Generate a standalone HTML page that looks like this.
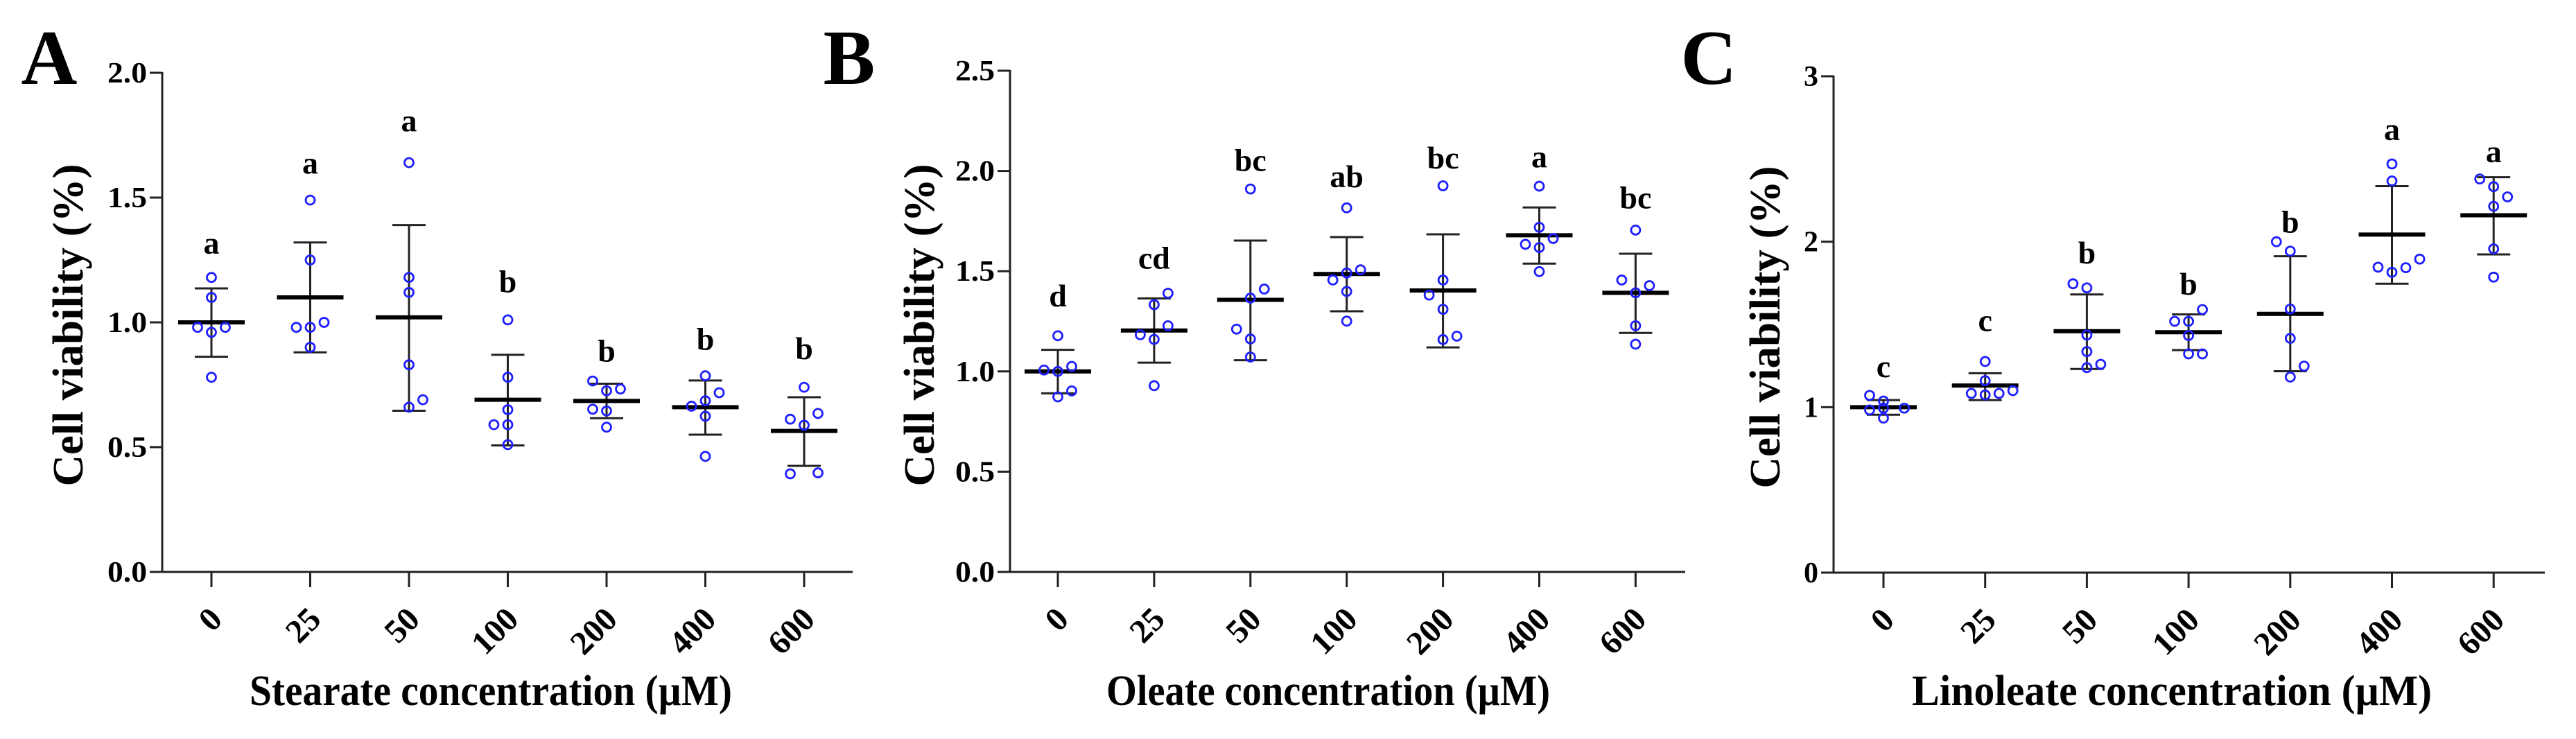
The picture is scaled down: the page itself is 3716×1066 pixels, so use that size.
<!DOCTYPE html>
<html><head><meta charset="utf-8"><style>
html,body{margin:0;padding:0;background:#fff;}
svg{display:block;font-family:"Liberation Serif","Times New Roman",serif;font-weight:bold;}
</style></head><body>
<svg id="fig" width="3716" height="1066" viewBox="0 0 3716 1066" xmlns="http://www.w3.org/2000/svg"></svg>
<script>
const categories = ["0","25","50","100","200","400","600"];
// Panel A – Stearate
const meansA = [1.0,1.10,1.02,0.69,0.685,0.66,0.565];
const upperA = [1.136,1.32,1.39,0.87,0.754,0.767,0.70];
const lowerA = [0.862,0.88,0.646,0.507,0.616,0.55,0.425];
const pointsA = [[1.18,1.10,0.98,0.96,0.98,0.78],[1.49,1.25,0.98,0.98,1.0,0.90],[1.64,1.18,1.12,0.83,0.66,0.69],[1.01,0.78,0.65,0.59,0.59,0.51],[0.765,0.726,0.733,0.652,0.645,0.58],[0.786,0.718,0.686,0.664,0.624,0.463],[0.74,0.635,0.612,0.588,0.393,0.397]];
const jitterA = [[0,0,-1,0,1,0],[0,0,-1,0,1,0],[0,0,0,0,0,1],[0,0,0,-1,0,0],[-1,0,1,-1,0,0],[0,1,0,-1,0,0],[0,1,-1,0,-1,1]];
const lettersA = ["a","a","a","b","b","b","b"];
const letterYA = [1.316,1.637,1.807,1.163,0.885,0.932,0.895];
const ticksA = [0,0.5,1.0,1.5,2.0];
const tickLabelsA = ["0.0","0.5","1.0","1.5","2.0"];
// Panel B – Oleate
const meansB = [1.0,1.204,1.357,1.486,1.404,1.679,1.392];
const upperB = [1.108,1.364,1.653,1.67,1.684,1.818,1.587];
const lowerB = [0.891,1.044,1.056,1.30,1.12,1.538,1.192];
const pointsB = [[1.178,1.007,1.025,1.0,0.903,0.873],[1.39,1.333,1.228,1.183,1.16,0.929],[1.91,1.411,1.366,1.211,1.162,1.072],[1.816,1.507,1.491,1.456,1.399,1.251],[1.926,1.456,1.381,1.31,1.176,1.159],[1.924,1.719,1.663,1.634,1.618,1.498],[1.705,1.456,1.428,1.392,1.228,1.136]];
const jitterB = [[0,-1,1,0,1,0],[1,0,1,-1,0,0],[0,1,0,-1,0,0],[0,1,0,-1,0,0],[0,0,-1,0,1,0],[0,0,1,-1,0,0],[0,-1,1,0,0,0]];
const lettersB = ["d","cd","bc","ab","bc","a","bc"];
const letterYB = [1.376,1.564,2.053,1.971,2.065,2.07,1.865];
const ticksB = [0,0.5,1.0,1.5,2.0,2.5];
const tickLabelsB = ["0.0","0.5","1.0","1.5","2.0","2.5"];
// Panel C – Linoleate
const meansC = [1.0,1.131,1.459,1.453,1.564,2.043,2.16];
const upperC = [1.043,1.205,1.681,1.561,1.912,2.336,2.39];
const lowerC = [0.954,1.043,1.231,1.345,1.217,1.746,1.923];
const pointsC = [[1.071,1.037,0.994,0.983,0.934,0.994],[1.276,1.16,1.083,1.074,1.083,1.10],[1.746,1.721,1.436,1.336,1.259,1.239],[1.59,1.519,1.519,1.433,1.322,1.322],[2.0,1.943,1.593,1.416,1.248,1.182],[2.47,2.367,1.846,1.815,1.843,1.895],[2.379,2.333,2.271,2.214,1.957,1.786]];
const jitterC = [[-1,0,0,-1,0,1.5],[0,0,-1,0,1,2],[-1,0,0,0,1,0],[1,-1,0,0,0,1],[-1,0,0,0,1,0],[0,0,-1,0,1,2],[-1,0,1,0,0,0]];
const lettersC = ["c","c","b","b","b","a","a"];
const letterYC = [1.245,1.524,1.932,1.744,2.117,2.678,2.544];
const ticksC = [0,1,2,3];
const tickLabelsC = ["0","1","2","3"];

const NS = "http://www.w3.org/2000/svg";
const svg = document.getElementById('fig');
function mk(tag, attrs, parent){
  const e = document.createElementNS(NS, tag);
  for (const k in attrs) e.setAttribute(k, attrs[k]);
  (parent||svg).appendChild(e);
  return e;
}
function panel(cfg){
  const g = mk('g', {});
  
  
  const y = v => cfg.y0 - (v - 0) / cfg.ymax * (cfg.y0 - cfg.yTop);
  const x = i => cfg.x0 + i * cfg.step;
  const pl = mk('text', {x: cfg.letterX, y: 121, 'font-size': 112, 'text-anchor': 'middle', fill: '#000'}, g);
  pl.textContent = cfg.id;
  
  
  const ya = mk('line', {x1: cfg.ax, y1: cfg.yTop - 1, x2: cfg.ax, y2: cfg.y0, stroke: '#222', 'stroke-width': 3}, g);
  
  
  const xa = mk('line', {x1: cfg.ax - 18, y1: cfg.y0, x2: cfg.axEnd, y2: cfg.y0, stroke: '#222', 'stroke-width': 3}, g);
  
  
  cfg.ticks.forEach((t, i) => {
    mk('line', {x1: cfg.ax - 18, y1: y(t), x2: cfg.ax, y2: y(t), stroke: '#222', 'stroke-width': 3}, g);
    const lab = cfg.tickLabels[i];
    const attrs = {x: cfg.ax - 22, y: y(t) + 14, 'font-size': 42, 'text-anchor': 'end', fill: '#000'};
    if (lab.length === 3) { attrs.textLength = 57; attrs.lengthAdjust = 'spacingAndGlyphs'; }
    const tl = mk('text', attrs, g);
    tl.textContent = lab;
    
    
  });
  categories.forEach((c, i) => {
    mk('line', {x1: x(i), y1: cfg.y0, x2: x(i), y2: cfg.y0 + 22, stroke: '#222', 'stroke-width': 3}, g);
    const tx = x(i) + 18, ty = cfg.y0 + 71;
    const tl = mk('text', {x: tx, y: ty, 'font-size': 48, 'text-anchor': 'end', fill: '#000', transform: `rotate(-45 ${tx} ${ty})`}, g);
    tl.textContent = c;
    
    
    const eb = mk('g', {stroke: '#222', 'stroke-width': 3}, g);
    
    
    mk('line', {x1: x(i), y1: y(cfg.upper[i]), x2: x(i), y2: y(cfg.lower[i])}, eb);
    mk('line', {x1: x(i) - 24, y1: y(cfg.upper[i]), x2: x(i) + 24, y2: y(cfg.upper[i])}, eb);
    mk('line', {x1: x(i) - 24, y1: y(cfg.lower[i]), x2: x(i) + 24, y2: y(cfg.lower[i])}, eb);
    const ml = mk('line', {x1: x(i) - 48, y1: y(cfg.means[i]), x2: x(i) + 48, y2: y(cfg.means[i]), stroke: '#000', 'stroke-width': 6}, g);
    
    
    cfg.points[i].forEach((v, j) => {
      const p = mk('circle', {cx: x(i) + cfg.jitter[i][j] * 20, cy: y(v), r: 6.5, fill: 'none', stroke: '#1f1fff', 'stroke-width': 2.8}, g);
      
      
    });
    const lt = mk('text', {x: x(i), y: y(cfg.letterY[i]) + 15, 'font-size': 46, 'text-anchor': 'middle', fill: '#000'}, g);
    lt.textContent = cfg.letters[i];
    
    
  });
  const yt = mk('text', {x: 0, y: 0, 'font-size': 62, 'text-anchor': 'middle', fill: '#000', textLength: 465, lengthAdjust: 'spacingAndGlyphs', transform: `translate(${cfg.ytX + 20} ${cfg.ytY}) rotate(-90)`}, g);
  yt.textContent = 'Cell viability (%)';
  
  
  const xt = mk('text', {x: cfg.xtX, y: 1017, 'font-size': 62, 'text-anchor': 'middle', fill: '#000', textLength: cfg.xtLen, lengthAdjust: 'spacingAndGlyphs'}, g);
  xt.textContent = cfg.xTitle;
  
  
}
panel({id:'A', letterX:71, ax:234, axEnd:1230, x0:305, step:142.5, y0:825, yTop:105, ymax:2.0,
  ticks:ticksA, tickLabels:tickLabelsA, means:meansA, upper:upperA, lower:lowerA, points:pointsA, jitter:jitterA,
  letters:lettersA, letterY:letterYA, ytX:99, ytY:469, xtX:708, xtLen:696, xTitle:'Stearate concentration (µM)'});
panel({id:'B', letterX:1225, ax:1457, axEnd:2431, x0:1526, step:138.9, y0:825, yTop:102, ymax:2.5,
  ticks:ticksB, tickLabels:tickLabelsB, means:meansB, upper:upperB, lower:lowerB, points:pointsB, jitter:jitterB,
  letters:lettersB, letterY:letterYB, ytX:1327, ytY:469, xtX:1916, xtLen:640, xTitle:'Oleate concentration (µM)'});
panel({id:'C', letterX:2465, ax:2645, axEnd:3671, x0:2717, step:146.7, y0:826, yTop:110, ymax:3,
  ticks:ticksC, tickLabels:tickLabelsC, means:meansC, upper:upperC, lower:lowerC, points:pointsC, jitter:jitterC,
  letters:lettersC, letterY:letterYC, ytX:2547, ytY:472, xtX:3133, xtLen:750, xTitle:'Linoleate concentration (µM)'});
</script>
</body></html>
